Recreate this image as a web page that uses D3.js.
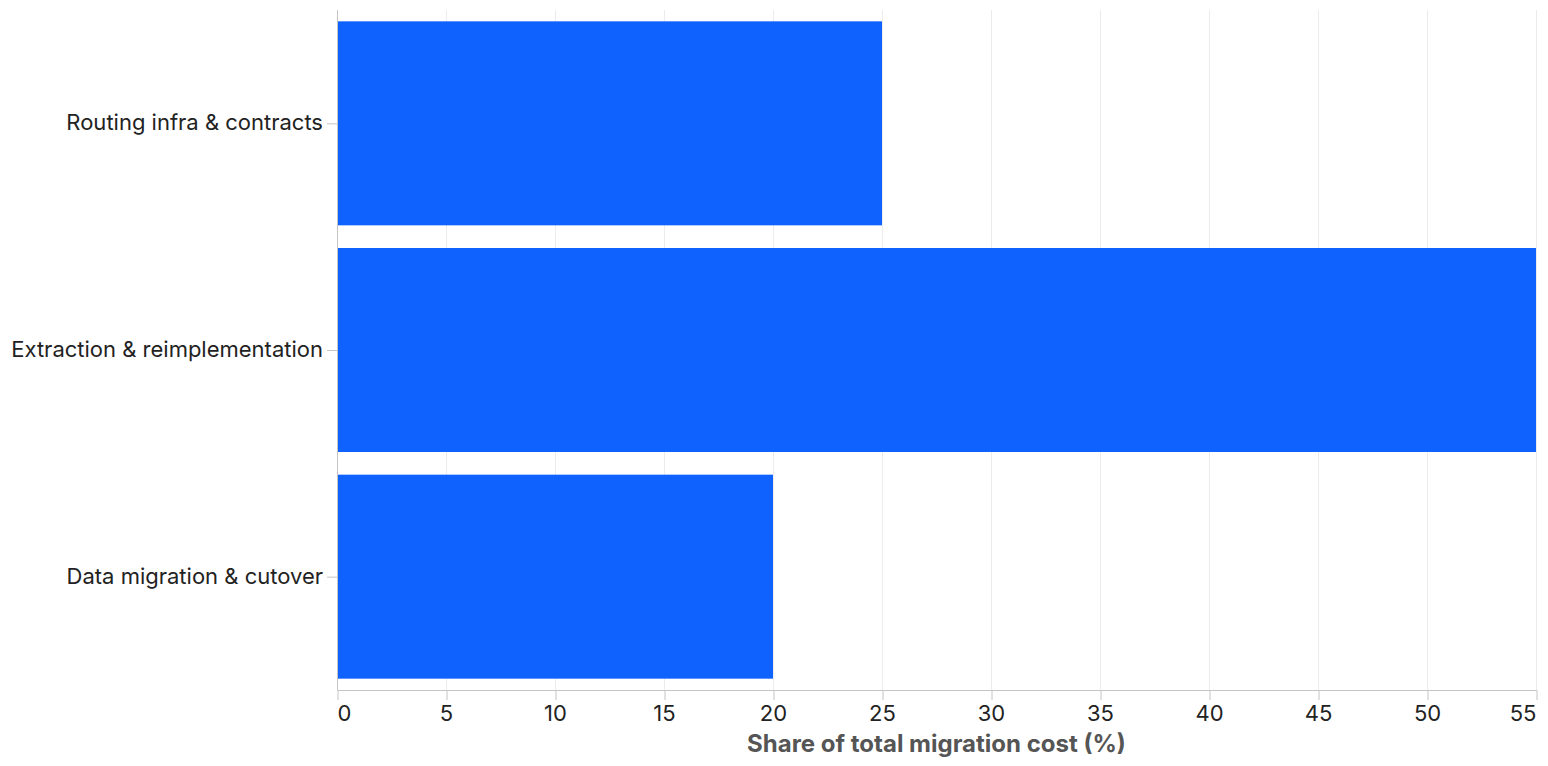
<!DOCTYPE html>
<html>
<head>
<meta charset="utf-8">
<script src="https://cdn.jsdelivr.net/npm/d3@7"></script>
<style>
  body { margin: 0; background: #fff; }
  text { font-family: Inter, "Noto Sans", sans-serif; }
</style>
</head>
<body>
<div id="chart"></div>
<script>
// chart data
const categories = ["Routing infra & contracts", "Extraction & reimplementation", "Data migration & cutover"];
const shares = [25, 55, 20];
const xTicks = [0, 5, 10, 15, 20, 25, 30, 35, 40, 45, 50, 55];
const xTitle = "Share of total migration cost (%)";

const margin = { top: 10, right: 12, bottom: 76, left: 337 };
const width = 1548 - margin.left - margin.right;
const height = 766 - margin.top - margin.bottom;

const svg = d3.select("#chart").append("svg")
    .attr("width", 1548)
    .attr("height", 766)
    .append("g")
    .attr("transform", `translate(${margin.left},${margin.top})`);

const x = d3.scaleLinear().domain([0, 55]).range([0, width]);
const y = d3.scaleBand().domain(categories).range([0, height]).paddingInner(0.1).paddingOuter(0.05);

// grid lines
svg.append("g")
    .selectAll("line")
    .data(xTicks)
    .join("line")
    .attr("x1", d => x(d) + 0.5)
    .attr("x2", d => x(d) + 0.5)
    .attr("y1", 0)
    .attr("y2", height)
    .attr("stroke", "#ececec")
    .attr("stroke-width", 1);

// bars
svg.selectAll(".bar")
    .data(categories)
    .join("rect")
    .attr("class", "bar")
    .attr("x", 0)
    .attr("y", d => y(d))
    .attr("width", (d, i) => x(shares[i]))
    .attr("height", y.bandwidth())
    .attr("fill", "#1062fe");

// x axis
const xAxis = svg.append("g")
    .attr("transform", `translate(0,${height})`)
    .call(d3.axisBottom(x).tickValues(xTicks).tickSize(10).tickPadding(5));
xAxis.selectAll("line").attr("stroke", "#c4c4c4").attr("transform", "translate(0.5,0)");
xAxis.select(".domain").attr("stroke", "#c4c4c4").attr("d", `M0.5,0.5H${width + 0.5}`);
xAxis.selectAll("text")
    .attr("fill", "#222")
    .style("font-size", "22px")
    // flush first and last label to the plot edges
    .attr("text-anchor", d => d === 0 ? "start" : d === 55 ? "end" : "middle");

// y axis
const yAxis = svg.append("g")
    .call(d3.axisLeft(y).tickSize(10).tickPadding(4));
yAxis.select(".domain").attr("stroke", "#c4c4c4").attr("d", `M0.5,0V${height}`);
yAxis.selectAll("line").attr("stroke", "#c4c4c4").attr("transform", "translate(0,0.5)");
yAxis.selectAll("text")
    .attr("fill", "#222")
    .style("font-size", "22px");

// axis title
svg.append("text")
    .attr("x", width / 2)
    .attr("y", height + 62)
    .attr("text-anchor", "middle")
    .attr("fill", "#555")
    .style("font-size", "24px")
    .style("font-weight", "bold")
    .text(xTitle);
</script>
</body>
</html>
